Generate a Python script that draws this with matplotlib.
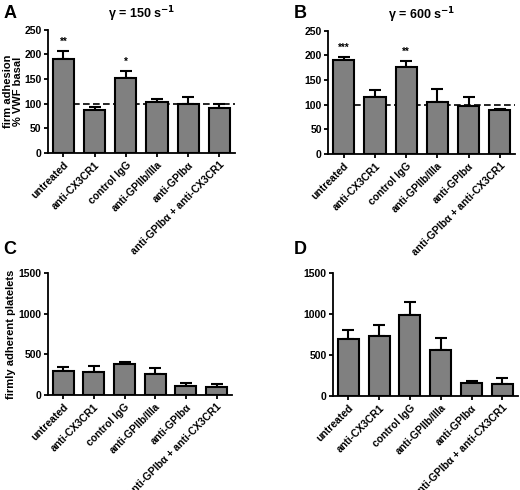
import matplotlib
matplotlib.use("Agg")
import matplotlib.pyplot as plt

plt.rcParams['font.family'] = ['Liberation Sans', 'DejaVu Sans']
plt.rcParams['font.weight'] = 'bold'

groups = ["untreated", "anti-CX3CR1", "control IgG", "anti-GPIIb/IIIa",
          "anti-GPIb\u03b1", "anti-GPIb\u03b1 + anti-CX3CR1"]

# A: gamma = 150 s-1, % VWF basal
a_mean = [190, 88, 153, 104, 99, 92]
a_err = [17, 6, 14, 6, 14, 8]
a_stars = ["**", "", "*", "", "", ""]

# B: gamma = 600 s-1, % VWF basal
b_mean = [190, 116, 177, 105, 97, 90]
b_err = [7, 14, 12, 26, 18, 2]
b_stars = ["***", "", "**", "", "", ""]

# C: firmly adherent platelets (150)
c_mean = [300, 285, 385, 260, 115, 95]
c_err = [40, 65, 15, 70, 33, 45]

# D: firmly adherent platelets (600)
d_mean = [700, 735, 985, 557, 152, 146]
d_err = [110, 132, 160, 150, 30, 72]

fig = plt.figure(figsize=(5.2, 4.9), dpi=100)
axA = fig.add_axes([0.092, 0.688, 0.360, 0.251])
axB = fig.add_axes([0.631, 0.686, 0.360, 0.251])
axC = fig.add_axes([0.092, 0.194, 0.354, 0.249])
axD = fig.add_axes([0.640, 0.192, 0.356, 0.251])


def draw(ax, mean, err, ymax, step, stars=None, ref=False):
    x = list(range(len(mean)))
    ax.bar(x, mean, width=0.68, color='#808080', edgecolor='black',
           linewidth=1.5, zorder=3)
    ax.errorbar(x, mean, yerr=[[0] * len(err), err], fmt='none',
                ecolor='black', elinewidth=1.5, capsize=4, capthick=1.5,
                zorder=2)
    if ref:
        ax.plot([0, 5.5], [100, 100], color='black', linestyle=(0, (4, 2)),
                linewidth=1.2, zorder=1)
    if stars:
        for i, s in enumerate(stars):
            if s:
                ax.text(i, mean[i] + err[i] + ymax * 0.035, s, ha='center',
                        va='bottom', fontsize=7, fontweight='bold')
    ax.set_xlim(-0.5, 5.5)
    ax.set_ylim(0, ymax)
    ax.set_yticks(range(0, ymax + 1, step))
    ax.set_xticks(x)
    ax.set_xticklabels(groups, rotation=45, ha='right',
                       rotation_mode='anchor', fontsize=7.5, fontweight='bold')
    ax.tick_params(axis='y', labelsize=7.5, width=1.3, length=3, pad=1.5)
    ax.tick_params(axis='x', width=1.3, length=3, pad=2)
    for lab in ax.get_yticklabels():
        lab.set_fontweight('bold')
    for sp in ['top', 'right']:
        ax.spines[sp].set_visible(False)
    for sp in ['left', 'bottom']:
        ax.spines[sp].set_linewidth(1.3)


draw(axA, a_mean, a_err, 250, 50, a_stars, ref=True)
draw(axB, b_mean, b_err, 250, 50, b_stars, ref=True)
draw(axC, c_mean, c_err, 1500, 500)
draw(axD, d_mean, d_err, 1500, 500)

axA.set_ylabel("firm adhesion\n% VWF basal", fontsize=8, fontweight='bold',
               labelpad=1, linespacing=1.0)
axC.set_ylabel("firmly adherent platelets", fontsize=8, fontweight='bold',
               labelpad=2)

axA.set_title("\u03b3 = 150 s$^{\\mathbf{-1}}$", fontsize=9,
              fontweight='bold', pad=8)
axB.set_title("\u03b3 = 600 s$^{\\mathbf{-1}}$", fontsize=9,
              fontweight='bold', pad=8)

fig.text(0.006, 0.972, "A", fontsize=13, fontweight='bold', va='center')
fig.text(0.565, 0.972, "B", fontsize=13, fontweight='bold', va='center')
fig.text(0.006, 0.49, "C", fontsize=13, fontweight='bold', va='center')
fig.text(0.565, 0.49, "D", fontsize=13, fontweight='bold', va='center')

fig.savefig("out.png", dpi=100)
